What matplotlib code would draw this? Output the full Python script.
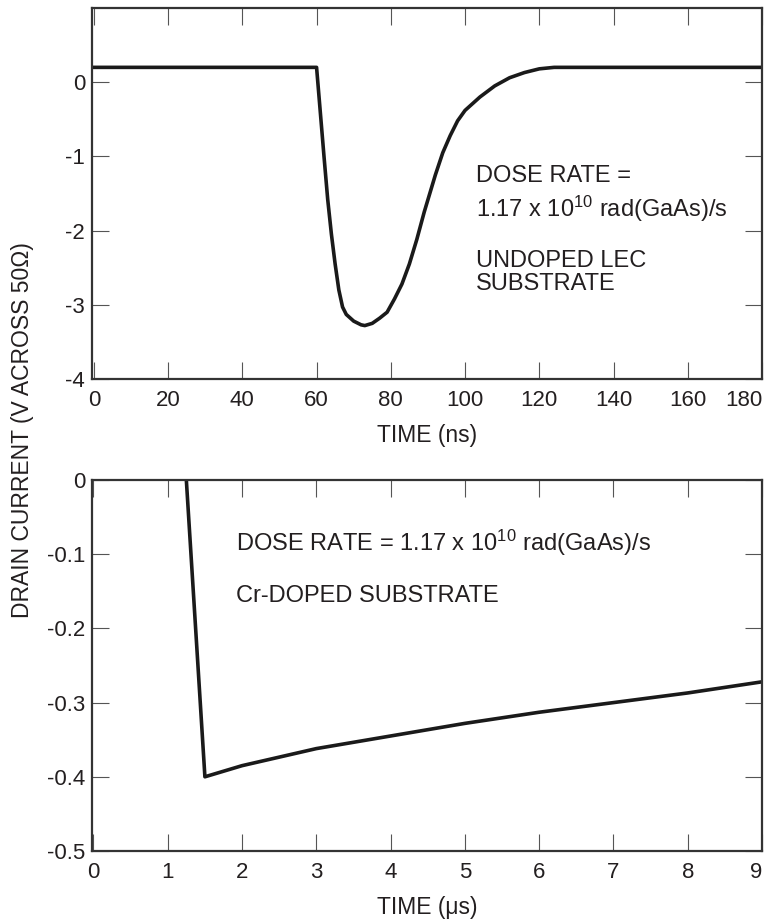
import numpy as np
import matplotlib
matplotlib.use('Agg')
import matplotlib.pyplot as plt

plt.rcParams['font.family'] = ['Liberation Sans', 'DejaVu Sans']
plt.rcParams['mathtext.fontset'] = 'custom'
plt.rcParams['mathtext.rm'] = 'Liberation Sans'
plt.rcParams['mathtext.it'] = 'Liberation Sans'
plt.rcParams['axes.unicode_minus'] = False

# top panel: undoped LEC substrate, time in ns
t_ns = [0, 60, 61, 62, 63, 64, 65, 66, 67, 68, 70, 72, 73, 75, 77, 79, 81,
        83, 85, 87, 89, 92, 94, 96, 98, 100, 104, 108, 112, 116, 120, 124, 180]
v_lec = [0.2, 0.2, -0.4, -1.0, -1.58, -2.05, -2.45, -2.8, -3.03, -3.13, -3.22,
         -3.27, -3.28, -3.25, -3.18, -3.1, -2.92, -2.72, -2.45, -2.12, -1.75,
         -1.25, -0.95, -0.72, -0.52, -0.38, -0.2, -0.05, 0.06, 0.13, 0.18, 0.2, 0.2]

# bottom panel: Cr-doped substrate, time in us
t_us = [1.25, 1.5, 2, 3, 4, 5, 6, 7, 8, 9]
v_cr = [0.0, -0.4, -0.385, -0.362, -0.345, -0.328, -0.313, -0.300, -0.287, -0.272]

ink = '#231f20'
W, H = 766, 922
fig = plt.figure(figsize=(W / 100, H / 100), dpi=100)

def frame(ax):
    for s in ax.spines.values():
        s.set_linewidth(1.6)
        s.set_color('#333333')
    ax.tick_params(direction='in', length=12, width=0.8, color='#555555',
                   top=True, right=True, labelsize=16, labelcolor=ink)
    ax.tick_params(axis='x', pad=8)
    ax.tick_params(axis='y', pad=5)
    # last x label sits inside the frame, as in the original
    ax.get_xticklabels()[-1].set_horizontalalignment('right')

ax1 = fig.add_axes([92 / W, 1 - 379 / H, 670 / W, 371 / H])
ax1.plot(t_ns, v_lec, color='#1a1a1a', lw=2.6, solid_joinstyle='round')
ax1.set_xlim(-0.5, 180)
ax1.set_ylim(-4, 1.0)
ax1.set_xticks(range(0, 181, 20))
ax1.set_yticks([0, -1, -2, -3, -4])
frame(ax1)
ax1.set_xlabel('TIME (ns)', fontsize=16.5, color=ink, labelpad=9)
ax1.text(103, -1.35, 'DOSE RATE =', fontsize=17, color=ink, va='baseline')
ax1.text(103, -1.81, r'1.17 x 10$^{10}$ rad(GaAs)/s', fontsize=17, color=ink, va='baseline')
ax1.text(103, -2.49, 'UNDOPED LEC', fontsize=17, color=ink, va='baseline')
ax1.text(103, -2.80, 'SUBSTRATE', fontsize=17, color=ink, va='baseline')

ax2 = fig.add_axes([92 / W, 1 - 851 / H, 670 / W, 371 / H])
ax2.plot(t_us, v_cr, color='#1a1a1a', lw=2.6)
ax2.set_xlim(-0.02, 9)
ax2.set_ylim(-0.5, 0)
ax2.set_xticks(range(0, 10))
ax2.set_yticks([0, -0.1, -0.2, -0.3, -0.4, -0.5])
ax2.set_yticklabels(['0', '-0.1', '-0.2', '-0.3', '-0.4', '-0.5'])
frame(ax2)
ax2.set_xlabel('TIME (\u03bcs)', fontsize=16.5, color=ink, labelpad=9)
ax2.text(1.92, -0.0957, r'DOSE RATE = 1.17 x 10$^{10}$ rad(GaAs)/s', fontsize=17, color=ink, va='baseline')
ax2.text(1.92, -0.164, 'Cr-DOPED SUBSTRATE', fontsize=17, color=ink, va='baseline')

fig.text(23 / W, 1 - 430 / H, 'DRAIN CURRENT (V ACROSS 50\u03a9)', rotation=90,
         fontsize=16.5, color=ink, ha='center', va='center')

fig.savefig('out.png', dpi=100)
